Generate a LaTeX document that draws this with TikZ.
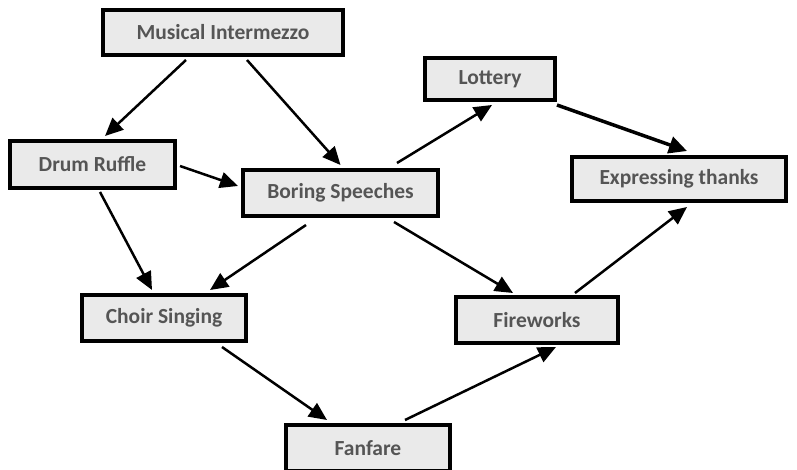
\documentclass[tikz,border=0pt]{standalone}
\usepackage{fontspec}
\setmainfont{Carlito}
\usetikzlibrary{arrows.meta,calc}
\definecolor{boxfill}{HTML}{EAEAEA}
\definecolor{txt}{HTML}{555555}
\tikzset{
  box/.style={draw=black, line width=4pt, fill=boxfill, text=txt,
    font=\fontsize{21.5}{24}\selectfont\bfseries, inner sep=0pt},
  conn/.style={line width=2.5pt, -{Triangle[length=18pt,width=16pt]}},
  thickconn/.style={line width=3.5pt, -{Triangle[length=18pt,width=17pt]}}
}
\begin{document}
\begin{tikzpicture}[x=1pt,y=-1pt]
\clip (0,0) rectangle (797,470);
\useasboundingbox (0,0) rectangle (797,470);
\node[box, minimum width=240pt, minimum height=45pt] (mi) at (223,32.5) {Musical Intermezzo};
\node[box, minimum width=165pt, minimum height=47pt] (dr) at (92.5,164.5) {Drum Ruffle};
\node[box, minimum width=195pt, minimum height=46pt] (bs) at (340.5,193) {Boring Speeches};
\node[box, minimum width=130pt, minimum height=42pt] (lo) at (490,79) {Lottery};
\node[box, minimum width=214pt, minimum height=44pt] (et) at (679,179) {Expressing thanks};
\node[box, minimum width=164pt, minimum height=46pt] (cs) at (164,318) {Choir Singing};
\node[box, minimum width=162pt, minimum height=46pt] (fw) at (537,320) {Fireworks};
\node[box, minimum width=164pt, minimum height=46pt] (ff) at (368,448) {Fanfare};

\draw[conn] ($(mi.south)+(-37,3)$) -- ($(dr.north)+(12.5,-3)$);
\draw[conn] ($(mi.south)+(24,3)$) -- ($(bs.north)+(0,-3)$);
\draw[conn] ($(dr.east)+(3,1.5)$) -- ($(bs.west)+(-3,-7)$);
\draw[conn] ($(dr.south)+(7.5,2)$) -- ($(cs.north)+(-12,-3)$);
\draw[conn] ($(bs.north)+(56.5,-5)$) -- ($(lo.south)+(2,3)$);
\draw[conn] ($(bs.south)+(-34.5,7)$) -- ($(cs.north)+(46,-3)$);
\draw[conn] ($(bs.south)+(53.5,4)$) -- ($(fw.north)+(-24,-2)$);
\draw[thickconn] ($(lo.south)+(67,3)$) -- ($(et.north)+(8,-4)$);
\draw[conn] ($(cs.south)+(58,4)$) -- ($(ff.north)+(-41,-3)$);
\draw[conn] ($(ff.north)+(37,-3)$) -- ($(fw.south)+(19,2)$);
\draw[conn] ($(fw.north)+(38,-2)$) -- ($(et.south)+(8,4)$);
\end{tikzpicture}
\end{document}
